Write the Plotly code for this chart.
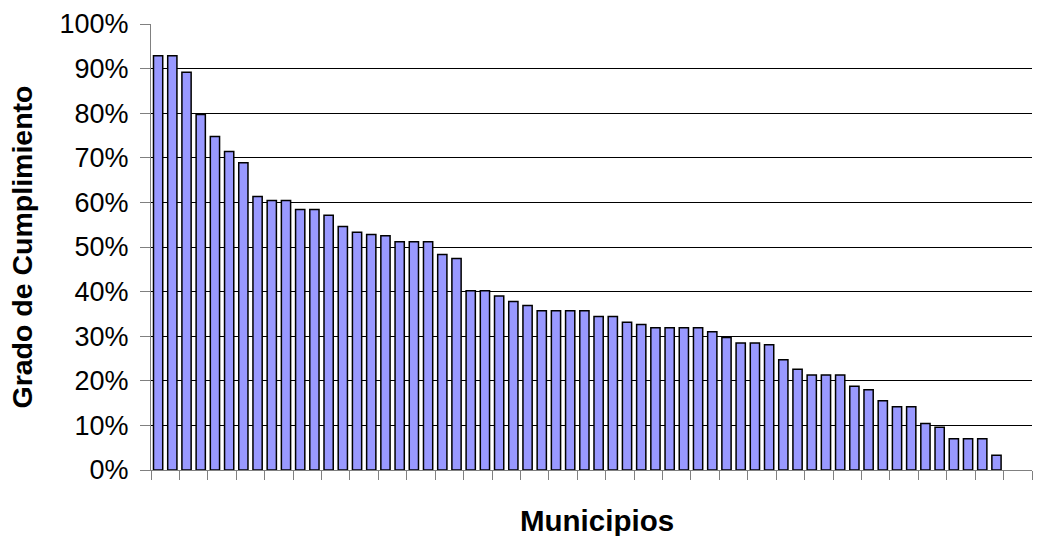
import plotly.graph_objects as go

municipios = [f"M{i}" for i in range(1, 63)]
cumplimiento = [
    0.929, 0.929, 0.892, 0.797, 0.748, 0.714, 0.689, 0.613, 0.604, 0.604,
    0.584, 0.584, 0.571, 0.546, 0.533, 0.528, 0.525, 0.512, 0.512, 0.512,
    0.483, 0.474, 0.402, 0.402, 0.390, 0.378, 0.369, 0.357, 0.357, 0.357,
    0.357, 0.344, 0.344, 0.331, 0.326, 0.319, 0.319, 0.319, 0.319, 0.310,
    0.297, 0.285, 0.285, 0.281, 0.247, 0.226, 0.213, 0.213, 0.213, 0.188,
    0.180, 0.155, 0.142, 0.142, 0.104, 0.096, 0.070, 0.070, 0.070, 0.033,
    None, None,
]
y_ticks = [0, 0.1, 0.2, 0.3, 0.4, 0.5, 0.6, 0.7, 0.8, 0.9, 1.0]

FONT = "Arial, 'Liberation Sans', sans-serif"

fig = go.Figure(
    go.Bar(
        x=municipios,
        y=cumplimiento,
        marker=dict(color="#9999FF", line=dict(color="black", width=1.5)),
    )
)

fig.update_layout(
    width=1037,
    height=536,
    margin=dict(l=151, r=5, t=24, b=66, autoexpand=False),
    plot_bgcolor="white",
    paper_bgcolor="white",
    bargap=0.35,
    showlegend=False,
    font=dict(family=FONT, color="black"),
    annotations=[
        dict(
            text="<b>Municipios</b>",
            xref="paper", yref="paper",
            x=0.5063, y=-0.1143,
            xanchor="center", yanchor="middle",
            showarrow=False,
            font=dict(size=29.5, family=FONT, color="black"),
        )
    ],
)

fig.update_xaxes(
    type="category",
    categoryorder="array",
    categoryarray=municipios,
    range=[-0.5, len(municipios) - 0.5],
    showticklabels=False,
    ticks="outside",
    tickson="boundaries",
    ticklen=9,
    tickcolor="#808080",
    tickwidth=1,
    showline=True,
    linecolor="#808080",
    linewidth=1,
    showgrid=False,
    automargin=False,
)

fig.update_yaxes(
    range=[0, 1],
    tickvals=y_ticks,
    tickformat=".0%",
    ticks="outside",
    ticklen=10,
    tickcolor="#808080",
    tickwidth=1,
    ticklabelstandoff=6,
    tickfont=dict(size=27, family=FONT),
    showline=True,
    linecolor="#808080",
    linewidth=1,
    showgrid=True,
    gridcolor="black",
    gridwidth=1,
    zeroline=False,
    automargin=False,
    title=dict(text="<b>Grado de Cumplimiento</b>", font=dict(size=28.5, family=FONT), standoff=18),
)

fig.write_html(
    "out.html",
    config={"displayModeBar": False},
    post_script="document.body.style.margin='0';document.body.style.overflow='hidden';",
)
